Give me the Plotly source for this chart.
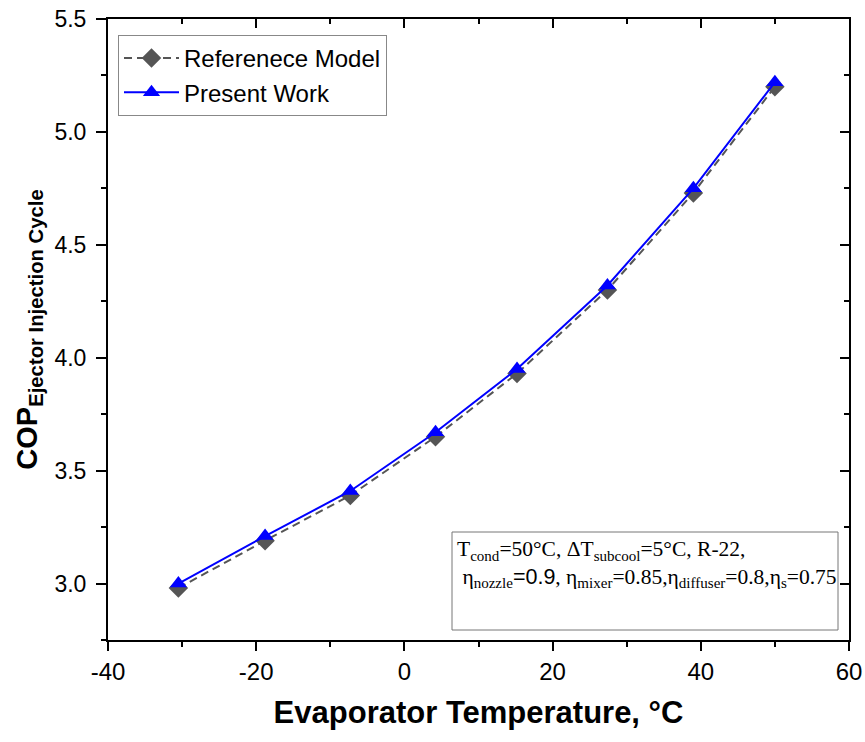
import plotly.graph_objects as go

# Evaporator temperature (°C) for each computed point
evap_temp_ref = [-30.5, -18.8, -7.3, 4.2, 15.2, 27.4, 39.0, 50.0]
evap_temp_present = [-30.5, -18.8, -7.3, 4.2, 15.2, 27.4, 39.0, 50.0]

# COP of the ejector injection cycle
cop_reference = [2.98, 3.19, 3.39, 3.65, 3.93, 4.30, 4.73, 5.20]
cop_present = [3.00, 3.21, 3.41, 3.67, 3.95, 4.32, 4.75, 5.22]

series_names = ["Referenece Model", "Present Work"]

x_tick_vals = [-40, -20, 0, 20, 40, 60]
x_tick_text = ["-40", "-20", "0", "20", "40", "60"]
y_tick_vals = [3.0, 3.5, 4.0, 4.5, 5.0, 5.5]
y_tick_text = ["3.0", "3.5", "4.0", "4.5", "5.0", "5.5"]

X_RANGE = [-40, 60]
Y_RANGE = [2.75, 5.5]

SANS = "Liberation Sans, Arial, sans-serif"
SERIF = "Liberation Serif, Times New Roman, serif"

# plot area in pixels
L, R, T, B = 108, 849, 19, 640
W, H = 865, 742


def px_x(p):
    return (p - L) / (R - L)


def px_y(p):
    return 1 - (p - T) / (B - T)


fig = go.Figure()

fig.add_trace(go.Scatter(
    x=evap_temp_ref, y=cop_reference, name=series_names[0],
    mode="lines+markers",
    line=dict(color="#555555", width=2, dash="8px,5px"),
    marker=dict(symbol="diamond", size=15, color="#555555"),
))
fig.add_trace(go.Scatter(
    x=evap_temp_present, y=cop_present, name=series_names[1],
    mode="lines+markers",
    line=dict(color="#0000FF", width=2),
    marker=dict(symbol="triangle-up", size=15, color="#0000FF"),
))

fig.update_layout(
    width=W, height=H,
    margin=dict(l=L, r=W - R, t=T, b=H - B),
    paper_bgcolor="white", plot_bgcolor="white",
    showlegend=True,
    legend=dict(
        x=px_x(118), y=px_y(35), xanchor="left", yanchor="top",
        bgcolor="rgba(255,255,255,0)", bordercolor="#888888", borderwidth=1,
        font=dict(family=SANS, size=24, color="black"),
        itemwidth=55, tracegroupgap=0,
    ),
    xaxis=dict(
        range=X_RANGE, showgrid=False, zeroline=False, automargin=False,
        showline=True, linecolor="black", linewidth=2, mirror=True,
        tickmode="array", tickvals=x_tick_vals, ticktext=x_tick_text,
        ticks="outside", ticklen=9, tickwidth=2, tickcolor="black",
        minor=dict(dtick=10, tick0=0, ticks="outside", ticklen=5, tickwidth=2, tickcolor="black"),
        tickfont=dict(family=SANS, size=24, color="black"),
        title=dict(text="<b>Evaporator Temperature, °C</b>",
                   font=dict(family=SANS, size=31, color="black"), standoff=18),
    ),
    yaxis=dict(
        range=Y_RANGE, showgrid=False, zeroline=False, automargin=False,
        showline=True, linecolor="black", linewidth=2, mirror=True,
        tickmode="array", tickvals=y_tick_vals, ticktext=y_tick_text,
        ticks="outside", ticklen=10, tickwidth=2, tickcolor="black",
        ticklabelstandoff=5,
        minor=dict(dtick=0.25, tick0=3.0, ticks="outside", ticklen=5, tickwidth=2, tickcolor="black"),
        tickfont=dict(family=SANS, size=23, color="black"),
        title=dict(
            text="<b>COP<sub>Ejector Injection Cycle</sub></b>",
            font=dict(family=SANS, size=29, color="black"), standoff=8),
    ),
    # inward ticks on the top and right frame edges
    xaxis2=dict(
        overlaying="x", side="top", anchor="y", range=X_RANGE, automargin=False,
        showgrid=False, zeroline=False, showline=False,
        tickmode="linear", tick0=-40, dtick=20, showticklabels=False,
        ticks="inside", ticklen=9, tickwidth=2, tickcolor="black",
        minor=dict(dtick=10, tick0=0, ticks="inside", ticklen=5, tickwidth=2, tickcolor="black"),
    ),
    yaxis2=dict(
        overlaying="y", side="right", anchor="x", range=Y_RANGE, automargin=False,
        showgrid=False, zeroline=False, showline=False,
        tickmode="linear", tick0=3.0, dtick=0.5, showticklabels=False,
        ticks="inside", ticklen=9, tickwidth=2, tickcolor="black",
        minor=dict(dtick=0.25, tick0=3.0, ticks="inside", ticklen=5, tickwidth=2, tickcolor="black"),
    ),
)

# invisible helper trace so the overlay axes get drawn
fig.add_trace(go.Scatter(x=[X_RANGE[0]], y=[Y_RANGE[0]], xaxis="x2", yaxis="y2",
                         mode="markers", marker=dict(opacity=0), showlegend=False,
                         hoverinfo="skip"))

# operating conditions box
fig.add_shape(type="rect", xref="paper", yref="paper",
              x0=px_x(452), x1=px_x(838), y0=px_y(630), y1=px_y(532),
              line=dict(color="#777777", width=1), fillcolor="rgba(0,0,0,0)")

cond_text = (
    "T<sub>cond</sub>=50°C, ΔT<sub>subcool</sub>=5°C, R-22,<br>"
    " η<sub>nozzle</sub><span style='font-family:Liberation Sans, Arial, sans-serif'>=0.9</span>, "
    "η<sub>mixer</sub>=0.85,η<sub>diffuser</sub>=0.8,η<sub>s</sub>=0.75"
)
fig.add_annotation(
    xref="paper", yref="paper",
    x=px_x(455), y=px_y(535),
    xanchor="left", yanchor="top", align="left",
    text=cond_text, showarrow=False,
    font=dict(family=SERIF, size=21.5, color="black"),
)

fig.write_html("out.html")
